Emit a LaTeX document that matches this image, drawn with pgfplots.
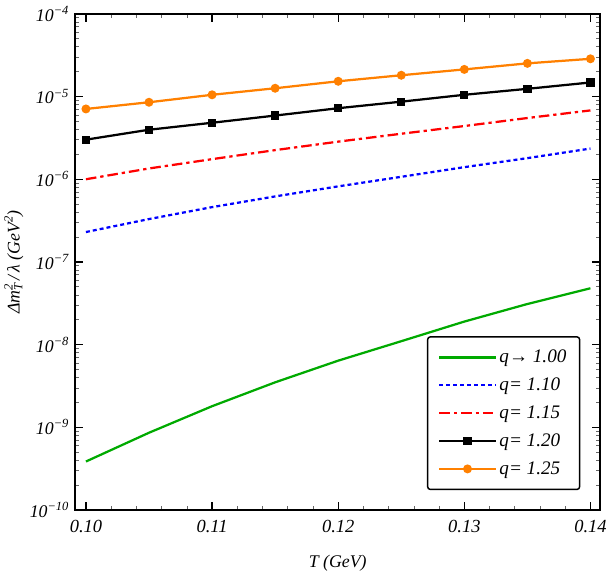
\documentclass[border=0pt]{standalone}
\usepackage{pgfplots}
\pgfplotsset{compat=1.18}
\usepackage{fontspec}
\setmainfont{Liberation Serif}
\definecolor{cgreen}{RGB}{0,170,0}
\definecolor{corange}{RGB}{255,128,0}
\begin{document}
\begin{tikzpicture}
\begin{axis}[
  scale only axis, width=398pt, height=376pt,
  xmode=normal, ymode=log,
  xmin=0.09914, xmax=0.14078, ymin=1e-10, ymax=1e-4,
  xtick={0.10,0.11,0.12,0.13,0.14},
  xticklabels={0.10,0.11,0.12,0.13,0.14},
  minor x tick num=4,
  ytick={1e-10,1e-9,1e-8,1e-7,1e-6,1e-5,1e-4},
  yticklabels={10\textsuperscript{−10},10\textsuperscript{−9},10\textsuperscript{−8},10\textsuperscript{−7},10\textsuperscript{−6},10\textsuperscript{−5},10\textsuperscript{−4}},
  tick align=inside,
  major tick length=6pt, minor tick length=3pt,
  every tick/.style={black, line width=0.9pt},
  minor tick style={line width=0.5pt, black!60},
  axis line style={line width=1.3pt},
  yticklabel style={font=\itshape\fontsize{13.5}{15}\selectfont, xshift=-1pt},
  xticklabel style={font=\itshape\fontsize{14}{16}\selectfont, yshift=-4pt},
  xlabel={\itshape T (GeV)},
  ylabel={\itshape Δm\rlap{\textsubscript{T}}\textsuperscript{2}\,/\,λ (GeV\textsuperscript{2})},
  label style={font=\itshape\fontsize{13.5}{15}\selectfont},
  xlabel style={yshift=-10pt},
  ylabel style={yshift=-2pt},
  legend style={at={(0.962,0.04)}, anchor=south east, draw=black, line width=1.1pt, rounded corners=2pt,
    font=\itshape\fontsize{14.5}{17}\selectfont, row sep=6pt, inner xsep=8pt, inner ysep=8pt},
  legend cell align=left,
  legend image code/.code={\draw[mark repeat=2,mark phase=2,#1,line width=1.7pt] plot coordinates {(0cm,0cm) (0.75cm,0cm) (1.5cm,0cm)};},
]
\addplot[cgreen, line width=1.7pt] coordinates {
(0.100,3.86e-10) (0.105,8.6e-10) (0.110,1.8e-9) (0.115,3.5e-9) (0.120,6.4e-9)
(0.125,1.1e-8) (0.130,1.9e-8) (0.135,3.1e-8) (0.140,4.8e-8)};
\addlegendentry{q→ 1.00}
\addplot[blue, line width=1.7pt, dash pattern=on 3pt off 2.3pt] coordinates {
(0.100,2.3e-7) (0.105,3.3e-7) (0.110,4.6e-7) (0.115,6.2e-7) (0.120,8.2e-7)
(0.125,1.07e-6) (0.130,1.4e-6) (0.135,1.8e-6) (0.140,2.35e-6)};
\addlegendentry{q= 1.10}
\addplot[red, line width=1.7pt, dash pattern=on 8pt off 3pt on 2.5pt off 3pt] coordinates {
(0.100,1.0e-6) (0.105,1.35e-6) (0.110,1.75e-6) (0.115,2.25e-6) (0.120,2.85e-6)
(0.125,3.55e-6) (0.130,4.4e-6) (0.135,5.5e-6) (0.140,6.8e-6)};
\addlegendentry{q= 1.15}
\addplot[black, line width=1.7pt, mark=square*, mark size=2.3pt] coordinates {
(0.100,3.01e-6) (0.105,3.97e-6) (0.110,4.82e-6) (0.115,5.89e-6) (0.120,7.23e-6)
(0.125,8.67e-6) (0.130,1.05e-5) (0.135,1.24e-5) (0.140,1.48e-5)};
\addlegendentry{q= 1.20}
\addplot[corange, line width=1.7pt, mark=*, mark size=2.5pt] coordinates {
(0.100,7.08e-6) (0.105,8.53e-6) (0.110,1.05e-5) (0.115,1.26e-5) (0.120,1.53e-5)
(0.125,1.81e-5) (0.130,2.13e-5) (0.135,2.52e-5) (0.140,2.86e-5)};
\addlegendentry{q= 1.25}
\end{axis}
\path ([yshift=10.5pt]current axis.north);
\end{tikzpicture}
\end{document}
